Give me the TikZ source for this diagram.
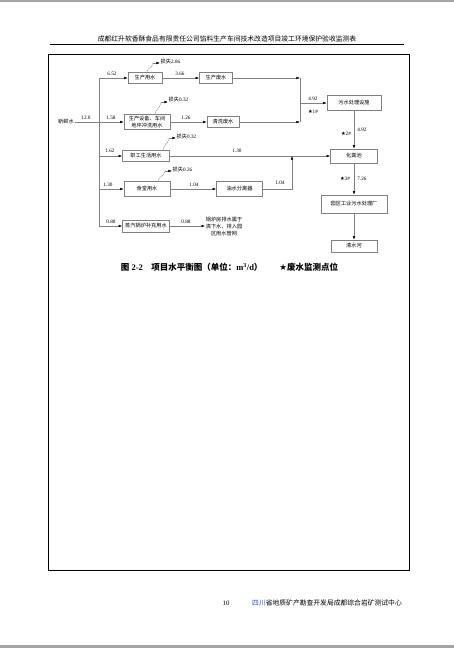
\documentclass[tikz,border=0pt]{standalone}
\usepackage{fontspec}
\setmainfont{Liberation Serif}
\newfontfamily\cjk{Noto Sans CJK SC}
\newfontfamily\sym{DejaVu Sans}
\usetikzlibrary{arrows.meta}
\definecolor{linegray}{RGB}{128, 128, 128}
\definecolor{pagegray}{RGB}{165, 165, 165}
\definecolor{footblue}{RGB}{50, 80, 170}
\newcommand{\zh}[1]{{\cjk #1}}
\newcommand{\mk}{{\sym ★}}

\begin{document}
\begin{tikzpicture}[
    x=1pt, y=-1pt,
    every node/.style={font=\fontsize{5.2}{6.5}\selectfont, inner sep=0.5pt},
    box/.style={rectangle, draw=linegray, line width=0.5pt, minimum height=11pt, align=center, inner sep=1pt},
    pipe/.style={draw=linegray, line width=0.5pt},
    arrow/.style={pipe, -{Latex[length=3.6pt, width=2.6pt, color=black]}},
    loss/.style={pipe, dash pattern=on 1pt off 0.8pt}
]
    \useasboundingbox (0,0) rectangle (454,648);
    \fill[white] (0,0) rectangle (454,648);
    \fill[pagegray] (0,0) rectangle (454,2);
    \fill[pagegray] (0,645) rectangle (454,648);

    \node (header) at (227,39) [font=\fontsize{6.8}{8}\selectfont] {\zh{成都红升软香酥食品有限责任公司馅料生产车间技术改造项目竣工环境保护验收监测表}};
    \draw[line width=0.7pt] (50,44) -- (404,44);
    \draw[line width=0.9pt] (48,54) rectangle (409,570);

    \node (fresh) at (66,122) {\zh{新鲜水}};
    \coordinate (trunk) at (99,122);
    \coordinate (t1) at (99,78);
    \coordinate (t3) at (99,156);
    \coordinate (t4) at (99,189);
    \coordinate (t5) at (99,226);

    \node (prod) [box, minimum width=34pt] at (145,78) {\zh{生产用水}};
    \node (prodw) [box, minimum width=33pt] at (216,78) {\zh{生产废水}};
    \node (wash) [box, minimum width=46pt, minimum height=15pt] at (147,122) {\zh{生产设备、车间}\\\zh{地坪冲洗用水}};
    \node (washw) [box, minimum width=32pt] at (223,122) {\zh{清洗废水}};
    \node (staff) [box, minimum width=47pt] at (146,156) {\zh{职工生活用水}};
    \node (canteen) [box, minimum width=46pt, minimum height=15pt] at (147,189) {\zh{食堂用水}};
    \node (sep) [box, minimum width=46pt, minimum height=15pt] at (239.5,189) {\zh{油水分离器}};
    \node (boiler) [box, minimum width=47pt, minimum height=12pt] at (146,226) {\zh{蒸汽锅炉补充用水}};
    \node (note) [align=center, font=\fontsize{5.2}{7}\selectfont] at (224,227) {\zh{锅炉房排水属于}\\\zh{清下水，排入园}\\\zh{区雨水管网}};
    \node (plant) [box, minimum width=54pt, minimum height=15pt] at (354,103) {\zh{污水处理设施}};
    \node (septic) [box, minimum width=47pt, minimum height=14pt] at (354,156) {\zh{化粪池}};
    \node (park) [box, minimum width=66pt, minimum height=18pt] at (354,204) {\zh{园区工业污水处理厂}};
    \node (river) [box, minimum width=46pt, minimum height=12pt] at (354,246) {\zh{清水河}};

    \coordinate (j1) at (300,78);
    \coordinate (j2) at (300,122);
    \coordinate (jm) at (300,103);
    \coordinate (j3) at (292,156);

    \draw[pipe] (fresh) -- (trunk);
    \draw[pipe] (t1) -- (t5);
    \draw[arrow] (t1) -- (prod);
    \draw[arrow] (trunk) -- (wash);
    \draw[arrow] (t3) -- (staff);
    \draw[arrow] (t4) -- (canteen);
    \draw[arrow] (t5) -- (boiler);
    \draw[arrow] (prod) -- (prodw);
    \draw[arrow] (wash) -- (washw);
    \draw[arrow] (prodw) -- (j1);
    \draw[arrow] (washw) -- (j2);
    \draw[pipe] (j1) -- (j2);
    \draw[arrow] (jm) -- (plant);
    \draw[arrow] (plant) -- (septic);
    \draw[arrow] (staff) -- (septic);
    \draw[arrow] (canteen) -- (sep);
    \draw[arrow] (sep) -| (j3);
    \draw[arrow] (septic) -- (park);
    \draw[arrow] (park) -- (river);
    \draw[arrow] (boiler) -- (boiler.east -| note.west);

    \coordinate (c1) at (153,63);
    \coordinate (c2) at (161,102);
    \coordinate (c3) at (169,138);
    \coordinate (c4) at (165,171);
    \node (loss1) [anchor=west] at (160,62) {\zh{损失}2.86};
    \node (loss2) [anchor=west] at (168,100) {\zh{损失}0.32};
    \node (loss3) [anchor=west] at (176,137) {\zh{损失}0.32};
    \node (loss4) [anchor=west] at (172,170) {\zh{损失}0.26};
    \draw[loss] (147,72.5) .. controls +(0,-5) and +(0,5) .. (c1);
    \draw[loss] (155,114.5) .. controls +(0,-6) and +(0,6) .. (c2);
    \draw[loss] (163,150.5) .. controls +(0,-6) and +(0,6) .. (c3);
    \draw[loss] (158,181.5) .. controls +(0,-5) and +(0,5) .. (c4);
    \draw[arrow] (c1) -- (c1 -| loss1.west);
    \draw[arrow] (c2) -- (c2 -| loss2.west);
    \draw[arrow] (c3) -- (c3 -| loss3.west);
    \draw[arrow] (c4) -- (c4 -| loss4.west);

    \node (v0) at (86,118) {12.0};
    \node (v1) at (112,74) {6.52};
    \node (v2) at (111,118) {1.58};
    \node (v3) at (110,151) {1.62};
    \node (v4) at (108,185) {1.30};
    \node (v5) at (111,222) {0.88};
    \node (v6) at (180,74) {3.66};
    \node (v7) at (186,118) {1.26};
    \node (v8) at (237,151) {1.30};
    \node (v9) at (194,185) {1.04};
    \node (v10) at (280,183) {1.04};
    \node (v11) at (186,222) {0.88};
    \node (v12) at (313,99) {4.92};
    \node (v13) at (362,130) {4.92};
    \node (v14) at (362,179) {7.26};
    \node (m1) at (313,112) {\mk1\#};
    \node (m2) at (346,134) {\mk2\#};
    \node (m3) at (345,179) {\mk3\#};

    \node (caption) at (229.5,267) [font=\fontsize{8.5}{10}\selectfont\bfseries] {{\cjk\bfseries 图} 2-2\quad{\cjk\bfseries 项目水平衡图（单位：}m\textsuperscript{3}/d{\cjk\bfseries ）}\qquad\mk{\cjk\bfseries 废水监测点位}};

    \node (pageno) at (226,603) [font=\fontsize{6.8}{8}\selectfont] {10};
    \node (org) at (327,603) [font=\fontsize{6.8}{8}\selectfont] {\textcolor{footblue}{\zh{四川}}\zh{省地质矿产勘查开发局成都综合岩矿测试中心}};
\end{tikzpicture}
\end{document}
